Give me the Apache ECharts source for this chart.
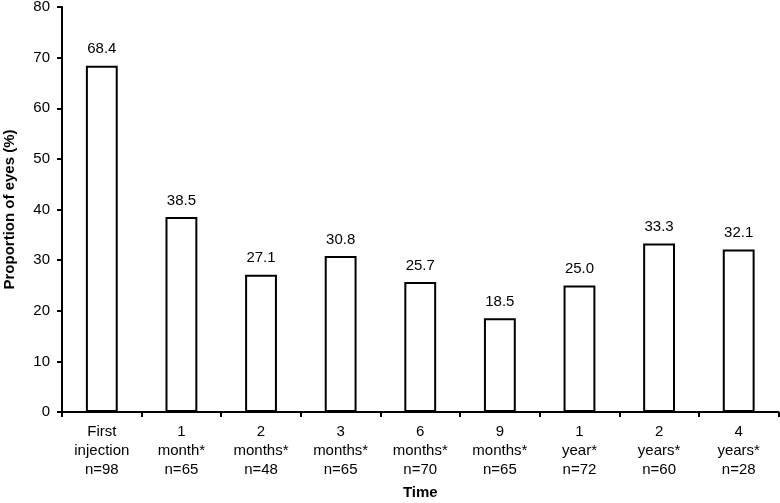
<!DOCTYPE html>
<html><head><meta charset="utf-8">
<script src="https://cdn.jsdelivr.net/npm/echarts@6/dist/echarts.min.js"></script>
<style>html,body{margin:0;padding:0;background:#fff}#c{width:780px;height:503px}</style>
</head><body><div id="c"></div>
<script>
const categories = ["First\ninjection\nn=98","1\nmonth*\nn=65","2\nmonths*\nn=48","3\nmonths*\nn=65","6\nmonths*\nn=70","9\nmonths*\nn=65","1\nyear*\nn=72","2\nyears*\nn=60","4\nyears*\nn=28"];
const values = [68.4, 38.5, 27.1, 30.8, 25.7, 18.5, 25.0, 33.3, 32.1];
const yTicks = [0, 10, 20, 30, 40, 50, 60, 70, 80];
const font = "Liberation Sans, Arial, sans-serif";
const chart = echarts.init(document.getElementById('c'), null, {renderer:'canvas'});
chart.setOption({
  animation:false,
  grid:{left:62, right:1.5, top:7, bottom:91, containLabel:false, outerBoundsMode:'none'},
  xAxis:{type:'category', data:categories,
    name:'Time', nameLocation:'middle', nameGap:73,
    nameTextStyle:{fontFamily:font, fontWeight:'bold', fontSize:15, color:'#000'},
    axisLine:{lineStyle:{color:'#000', width:2}},
    axisTick:{show:true, length:5, lineStyle:{color:'#000', width:2}},
    axisLabel:{fontFamily:font, fontSize:15, color:'#000', lineHeight:19, margin:10, interval:0}
  },
  yAxis:{type:'value', min:yTicks[0], max:yTicks[yTicks.length-1], interval:10,
    name:'Proportion of eyes (%)', nameLocation:'middle', nameGap:45,
    nameTextStyle:{fontFamily:font, fontWeight:'bold', fontSize:15, color:'#000'},
    axisLine:{show:true, lineStyle:{color:'#000', width:2}},
    axisTick:{show:true, length:5, lineStyle:{color:'#000', width:2}},
    axisLabel:{fontFamily:font, fontSize:15, color:'#000', margin:12},
    splitLine:{show:false}
  },
  series:[{type:'bar', data:values, barWidth:'40%',
    itemStyle:{color:'#fff', borderColor:'#000', borderWidth:2},
    label:{show:true, position:'top', distance:9, fontFamily:font, fontSize:15, color:'#000',
      formatter:p=>p.value.toFixed(1)}
  }]
});
</script></body></html>
